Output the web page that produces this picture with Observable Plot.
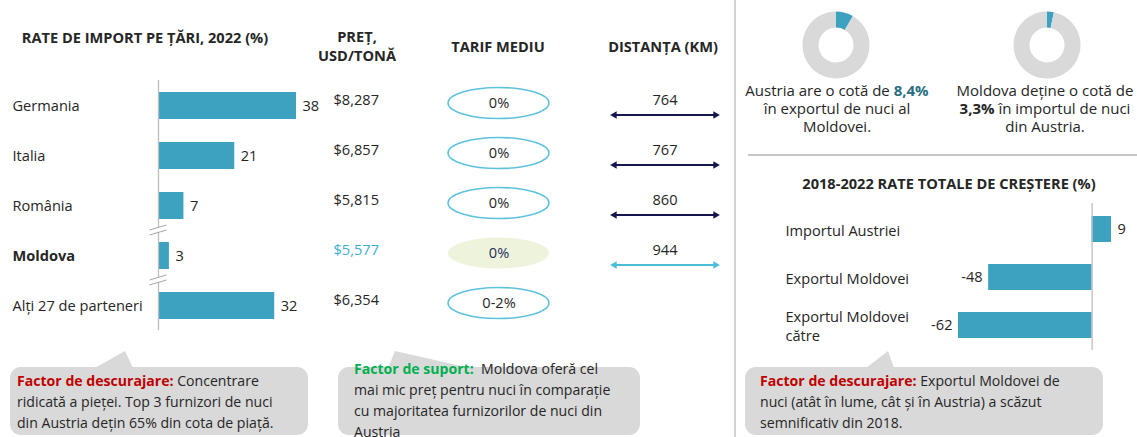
<!DOCTYPE html>
<html><head><meta charset="utf-8">
<script src="https://cdn.jsdelivr.net/npm/d3@7"></script>
<script src="https://cdn.jsdelivr.net/npm/@observablehq/plot@0.6"></script>
<style>
body{margin:0;background:#fff;}
#root{position:relative;width:1137px;height:437px;overflow:hidden;font-family:"Open Sans",Lato,sans-serif;color:#262626;background:#fff;}
#root svg{position:absolute;top:0;}
.hdr{position:absolute;font-weight:bold;font-size:14.6px;text-align:center;line-height:19px;white-space:nowrap;transform:translateX(-50%);}
.box{position:absolute;background:#d9d9d9;border-radius:11px;}
.ptr{position:absolute;background:#d9d9d9;}
.ctext{position:absolute;font-size:14.1px;line-height:21px;white-space:nowrap;}
.dtext{position:absolute;font-size:15px;line-height:18px;text-align:center;white-space:nowrap;transform:translateX(-50%);}
</style></head>
<body><div id="root">
<div style="position:absolute;left:734px;top:0;width:2px;height:437px;background:#d4d4d4"></div>
<div style="position:absolute;left:748px;top:154px;width:389px;height:1.5px;background:#c8c8c8"></div>

<div class="hdr" style="left:145px;top:28px">RATE DE IMPORT PE ȚĂRI, 2022 (%)</div>
<div class="hdr" style="left:357px;top:27px">PREȚ,<br>USD/TONĂ</div>
<div class="hdr" style="left:498px;top:37px">TARIF MEDIU</div>
<div class="hdr" style="left:663px;top:37px">DISTANȚA (KM)</div>
<div class="hdr" style="left:949px;top:174px">2018-2022 RATE TOTALE DE CREȘTERE (%)</div>

<div class="dtext" style="left:837px;top:81px">Austria are o cotă de <b style="color:#2a6e82">8,4%</b><br>în exportul de nuci al<br>Moldovei.</div>
<div class="dtext" style="left:1045px;top:81px">Moldova deține o cotă de<br><b>3,3%</b> în importul de nuci<br>din Austria.</div>

<div class="box" style="left:10px;top:367px;width:298px;height:68px"></div>
<div class="ptr" style="left:95px;top:351px;width:40px;height:17px;clip-path:polygon(0px 17px,30px 0px,38px 17px)"></div>
<div class="ctext" style="left:17px;top:370px"><b style="color:#c00000">Factor de descurajare:</b> Concentrare<br>ridicată a pieței. Top 3 furnizori de nuci<br>din Austria dețin 65% din cota de piață.</div>

<div class="box" style="left:338px;top:367px;width:302px;height:68px"></div>
<div class="ptr" style="left:388px;top:351px;width:85px;height:17px;clip-path:polygon(0px 17px,7px 0px,82px 17px)"></div>
<div class="ctext" style="left:354px;top:358px"><b style="color:#00b050">Factor de suport:</b>&nbsp; Moldova oferă cel<br>mai mic preț pentru nuci în comparație<br>cu majoritatea furnizorilor de nuci din<br>Austria</div>

<div class="box" style="left:745px;top:367px;width:358px;height:68px"></div>
<div class="ptr" style="left:866px;top:351px;width:30px;height:17px;clip-path:polygon(0px 17px,22px 0px,28px 17px)"></div>
<div class="ctext" style="left:760px;top:370px"><b style="color:#c00000">Factor de descurajare:</b> Exportul Moldovei de<br>nuci (atât în lume, cât și în Austria) a scăzut<br>semnificativ din 2018.</div>
</div>
<script>
// ---- data ----
const countries = ["Germania", "Italia", "România", "Moldova", "Alți 27 de parteneri"];
const importShares = [38, 21, 7, 3, 32];
const prices = ["$8,287", "$6,857", "$5,815", "$5,577", "$6,354"];
const tariffs = ["0%", "0%", "0%", "0%", "0-2%"];
const distCountries = ["Germania", "Italia", "România", "Moldova"];
const distances = [764, 767, 860, 944];
const breakBefore = ["Moldova", "Alți 27 de parteneri"];
const growthLabels = ["Importul Austriei", "Exportul Moldovei", "Exportul Moldovei\ncătre"];
const growthValues = [9, -48, -62];
const donutShares = [8.4, 3.3];
const focus = "Moldova";

// ---- style ----
const BAR = "#3ca2c0", TXT = "#262626", FONT = "'Open Sans', Lato, sans-serif";
const FS = 14.6;
const root = document.getElementById("root");
const style = {fontFamily: FONT, fontSize: FS + "px", color: TXT, background: "transparent", overflow: "visible"};
const H = 437;
const rowY = {domain: countries, paddingInner: 0.46, paddingOuter: 0.23, axis: null};
const rowBase = {height: H, marginTop: 80, marginBottom: 107, y: rowY, color: {type: "identity"}, style};
function place(svg, left) { svg.style.left = left + "px"; root.append(svg); }

const gapSymbol = {draw(c) { c.moveTo(-9, -1); c.lineTo(8, -6); c.lineTo(8, -1); c.lineTo(-9, 4); c.closePath(); }};
const slashSymbol = {draw(c) { c.moveTo(-9, -1); c.lineTo(8, -6); c.moveTo(-9, 4); c.lineTo(8, -1); }};

// ---- import share bars ----
place(Plot.plot({
  ...rowBase, width: 330, marginLeft: 158, marginRight: 34,
  x: {domain: [0, 38], axis: null},
  marks: [
    Plot.barX(countries, {y: d => d, x: (d, i) => importShares[i], fill: BAR}),
    Plot.ruleX([0], {stroke: "#bdbdbd", strokeWidth: 1.3}),
    Plot.dot(breakBefore, {x: 0, y: d => d, dy: -25, symbol: gapSymbol, fill: "white", stroke: "none"}),
    Plot.dot(breakBefore, {x: 0, y: d => d, dy: -25, symbol: slashSymbol, fill: "none", stroke: "#a6a6a6", strokeWidth: 1}),
    Plot.text(countries, {y: d => d, x: (d, i) => importShares[i], text: (d, i) => String(importShares[i]), dx: 6, textAnchor: "start", fontSize: FS, fill: TXT}),
    Plot.text(countries, {filter: d => d !== focus, y: d => d, x: 0, dx: -146, textAnchor: "start", text: d => d, fontSize: FS, fill: TXT}),
    Plot.text(countries, {filter: d => d === focus, y: d => d, x: 0, dx: -146, textAnchor: "start", text: d => d, fontSize: FS, fontWeight: "bold", fill: TXT})
  ]
}), 0);

// ---- price column ----
place(Plot.plot({
  ...rowBase, width: 80, marginLeft: 0, marginRight: 0,
  marks: [
    Plot.text(countries, {y: d => d, text: (d, i) => prices[i], frameAnchor: "left", textAnchor: "start", dy: -5, fontSize: FS,
      fill: d => d === focus ? "#3bafd2" : TXT})
  ]
}), 333);

// ---- tariff column ----
place(Plot.plot({
  ...rowBase, width: 103, marginLeft: 0, marginRight: 0,
  marks: [
    Plot.cell(countries, {filter: d => d !== focus, y: d => d, fill: "white", stroke: "#5cc3df", strokeWidth: 1.5, rx: 60, ry: 20, insetTop: -4.5, insetBottom: 0.5, insetLeft: 1, insetRight: 1}),
    Plot.cell(countries, {filter: d => d === focus, y: d => d, fill: "#eef3dc", rx: 60, ry: 20, insetTop: -4.5, insetBottom: 0.5, insetLeft: 1, insetRight: 1}),
    Plot.text(countries, {y: d => d, text: (d, i) => tariffs[i], frameAnchor: "middle", dy: -3, fontSize: FS,
      fill: d => d === focus ? "#1f2d5a" : TXT})
  ]
}), 447);

// ---- distance column ----
const arrowColor = d => d === focus ? "#4dbcd9" : "#15154f";
place(Plot.plot({
  ...rowBase, width: 109, marginLeft: 0, marginRight: 0,
  marks: [
    Plot.ruleY(distCountries, {y: d => d, dy: 9.5, stroke: arrowColor, strokeWidth: 2, insetLeft: 4, insetRight: 4}),
    Plot.dot(distCountries, {y: d => d, frameAnchor: "left", dx: 4, dy: 9.5, symbol: "triangle2", rotate: -90, r: 3.6, fill: arrowColor, stroke: "none"}),
    Plot.dot(distCountries, {y: d => d, frameAnchor: "right", dx: -4, dy: 9.5, symbol: "triangle2", rotate: 90, r: 3.6, fill: arrowColor, stroke: "none"}),
    Plot.text(distCountries, {y: d => d, text: (d, i) => String(distances[i]), frameAnchor: "middle", dy: -5, fontSize: FS, fill: TXT})
  ]
}), 610);

// ---- growth chart ----
place(Plot.plot({
  width: 402, height: H, marginTop: 203, marginBottom: 87, marginLeft: 223, marginRight: 26, style,
  x: {domain: [-62, 9], axis: null},
  y: {domain: growthLabels, paddingInner: 0.46, paddingOuter: 0.25, axis: null},
  marks: [
    Plot.barX(growthLabels, {y: d => d, x: (d, i) => growthValues[i], fill: BAR}),
    Plot.ruleX([0], {stroke: "#bdbdbd", strokeWidth: 1.3}),
    Plot.text(growthLabels, {filter: (d, i) => growthValues[i] >= 0, y: d => d, x: (d, i) => growthValues[i], text: (d, i) => String(growthValues[i]), dx: 6, textAnchor: "start", fontSize: FS, fill: TXT}),
    Plot.text(growthLabels, {filter: (d, i) => growthValues[i] < 0, y: d => d, x: (d, i) => growthValues[i], text: (d, i) => String(growthValues[i]), dx: -6, textAnchor: "end", fontSize: FS, fill: TXT}),
    Plot.text(growthLabels, {y: d => d, text: d => d, frameAnchor: "left", dx: -173, textAnchor: "start", lineHeight: 1.3, fontSize: FS, fill: TXT})
  ]
}), 735);

// ---- donuts ----
place(Plot.plot({
  width: 402, height: 85, margin: 0, style,
  x: {type: "point", domain: donutShares.map((d, i) => i), range: [101, 312], padding: 0, axis: null},
  y: {domain: [0, 1], range: [45, 45], axis: null},
  marks: [
    Plot.dot(donutShares, {x: (d, i) => i, y: 0, r: 0, fill: "none", stroke: "none"}),
    (index, scales) => {
      const g = d3.create("svg:g");
      const arc = d3.arc().innerRadius(17.5).outerRadius(33.5);
      const pie = d3.pie().sort(null);
      donutShares.forEach((s, k) => {
        const cx = scales && scales.x ? scales.x(k) : [101, 312][k];
        const cy = scales && scales.y ? scales.y(0) : 45;
        g.append("g").attr("transform", `translate(${cx},${cy})`)
          .selectAll("path").data(pie([s, 100 - s])).join("path")
          .attr("d", arc).attr("fill", (d, i) => i === 0 ? BAR : "#d9d9d9");
      });
      return g.node();
    }
  ]
}), 735);
</script>
</body></html>
